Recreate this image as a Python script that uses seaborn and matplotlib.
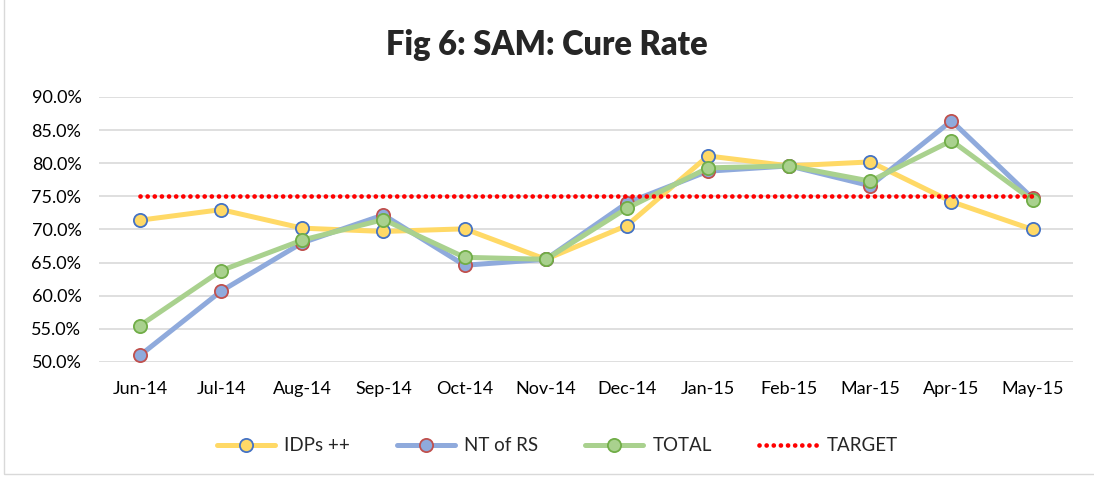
"""
Fig 6: SAM cure rate, monthly line chart
"""

import seaborn as sns
import pandas as pd
import numpy as np
import matplotlib.pyplot as plt
from matplotlib.patches import Rectangle
from matplotlib.ticker import FuncFormatter, MultipleLocator

months = ['Jun-14', 'Jul-14', 'Aug-14', 'Sep-14', 'Oct-14', 'Nov-14',
          'Dec-14', 'Jan-15', 'Feb-15', 'Mar-15', 'Apr-15', 'May-15']
idps = [71.4, 73.0, 70.2, 69.7, 70.1, 65.5, 70.6, 81.1, 79.6, 80.2, 74.2, 70.0]
nt_rs = [51.0, 60.7, 68.0, 72.2, 64.6, 65.5, 74.0, 78.8, 79.6, 76.6, 86.4, 74.7]
total = [55.5, 63.8, 68.4, 71.5, 65.8, 65.5, 73.2, 79.3, 79.6, 77.3, 83.4, 74.4]
target = [75.0] * 12

sns.set_style('white')
plt.rcParams['font.family'] = ['Lato', 'DejaVu Sans']

df = pd.DataFrame({'pos': np.arange(len(months)), 'IDPs ++': idps,
                   'NT of RS': nt_rs, 'TOTAL': total, 'TARGET': target})

fig = plt.figure(figsize=(10.94, 4.78), dpi=100)
ax = fig.add_axes([0.0909, 0.2427, 0.8901, 0.5544])

# line colour, marker face, marker edge
styles = {
    'IDPs ++': ('#FFD966', '#FFD966', '#4472C4'),
    'NT of RS': ('#8FAADC', '#8FAADC', '#C0504D'),
    'TOTAL': ('#A9D18E', '#A9D18E', '#70AD47'),
}
for name, (lc, fc, ec) in styles.items():
    sns.lineplot(data=df, x='pos', y=name, ax=ax, color=lc, lw=3.6,
                 marker='o', markersize=9.5, markerfacecolor=fc,
                 markeredgecolor=ec, markeredgewidth=1.3, label=name)
sns.lineplot(data=df, x='pos', y='TARGET', ax=ax, color='#FF0000', lw=3.4,
             linestyle=(0, (0.01, 1.5)), dash_capstyle='round', label='TARGET')

ax.set_xlim(-0.5, 11.5)
ax.set_ylim(50, 90)
ax.yaxis.set_major_locator(MultipleLocator(5))
ax.yaxis.set_major_formatter(FuncFormatter(lambda v, p: f'{v:.1f}%'))
ax.set_xticks(df['pos'])
ax.set_xticklabels(months)
ax.tick_params(axis='both', length=0, labelsize=13, colors='#000000')
ax.tick_params(axis='x', pad=14)
ax.tick_params(axis='y', pad=13)
ax.set_xlabel('')
ax.set_ylabel('')
ax.grid(axis='y', color='#D9D9D9', lw=1.2)
ax.set_axisbelow(True)
for s in ax.spines.values():
    s.set_visible(False)

ax.legend(loc='upper center', bbox_to_anchor=(0.47, -0.22), ncol=4,
          frameon=False, fontsize=13.5, handlelength=3.1, columnspacing=2.5,
          handletextpad=0.5)

fig.text(0.5, 0.905, 'Fig 6: SAM: Cure Rate', ha='center', va='center',
         fontsize=23.5, fontweight='heavy')
fig.patches.append(Rectangle((4 / 1094, 4 / 478), 1.2, 1.2, transform=fig.transFigure,
                             fill=False, edgecolor='#D9D9D9', lw=1))

fig.savefig('out.png', dpi=100)
